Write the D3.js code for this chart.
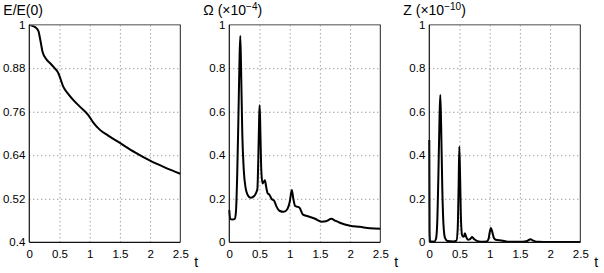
<!DOCTYPE html>
<html>
<head>
<meta charset="UTF-8">
<script src="https://d3js.org/d3.v7.min.js"></script>
<style>
  body { margin: 0; background: #fff; }
  svg { display: block; font-family: "Liberation Sans", Arial, sans-serif; }
  .grid line { stroke: #666; stroke-width: 0.9; stroke-dasharray: 1,3; }
  .tick text { font-size: 11.5px; fill: #000; }
</style>
</head>
<body>
<svg width="604" height="273"></svg>
<script>
// time axis ticks, shared by all panels
const xTicks = [0, 0.5, 1, 1.5, 2, 2.5];

// energy E/E(0)
const eT = [0, 0.05, 0.1, 0.15, 0.18, 0.22, 0.29, 0.35, 0.43, 0.47, 0.5, 0.56, 0.65, 0.73, 0.85, 0.98, 1.06, 1.17, 1.3, 1.5, 1.75, 2.0, 2.25, 2.5];
const eV = [1.0, 0.997, 0.993, 0.983, 0.96, 0.925, 0.903, 0.893, 0.878, 0.87, 0.858, 0.83, 0.808, 0.792, 0.772, 0.75, 0.73, 0.71, 0.695, 0.674, 0.648, 0.625, 0.606, 0.589];
const eTicks = [0.4, 0.52, 0.64, 0.76, 0.88, 1];

// enstrophy Omega (x1e-4)
const oT = [0, 0.015, 0.05, 0.09, 0.11, 0.13, 0.15, 0.17, 0.182, 0.195, 0.215, 0.24, 0.27, 0.3, 0.35, 0.4, 0.44, 0.465, 0.48, 0.495, 0.503, 0.515, 0.53, 0.55, 0.575, 0.59, 0.61, 0.635, 0.66, 0.7, 0.745, 0.78, 0.83, 0.9, 0.96, 1.0, 1.035, 1.06, 1.09, 1.16, 1.22, 1.3, 1.42, 1.53, 1.6, 1.69, 1.75, 1.83, 2.0, 2.16, 2.33, 2.5];
const oV = [0.148, 0.108, 0.105, 0.108, 0.14, 0.3, 0.56, 0.85, 0.948, 0.8, 0.5, 0.33, 0.25, 0.22, 0.205, 0.21, 0.225, 0.245, 0.38, 0.58, 0.63, 0.5, 0.33, 0.27, 0.28, 0.285, 0.255, 0.225, 0.22, 0.2, 0.19, 0.165, 0.145, 0.14, 0.152, 0.185, 0.24, 0.2, 0.167, 0.16, 0.127, 0.12, 0.108, 0.095, 0.097, 0.108, 0.1, 0.09, 0.076, 0.071, 0.065, 0.062];

// palinstrophy Z (x1e-10)
const zT = [0, 0.005, 0.012, 0.08, 0.11, 0.13, 0.15, 0.17, 0.182, 0.195, 0.215, 0.235, 0.26, 0.3, 0.4, 0.45, 0.47, 0.485, 0.497, 0.51, 0.525, 0.545, 0.57, 0.59, 0.61, 0.64, 0.675, 0.71, 0.74, 0.78, 0.85, 0.95, 0.98, 1.0, 1.02, 1.04, 1.07, 1.1, 1.2, 1.3, 1.55, 1.62, 1.675, 1.72, 1.8, 2.0, 2.5];
const zV = [0.47, 0.05, 0.005, 0.003, 0.015, 0.08, 0.3, 0.58, 0.677, 0.55, 0.25, 0.08, 0.02, 0.006, 0.004, 0.008, 0.06, 0.25, 0.44, 0.3, 0.1, 0.03, 0.025, 0.042, 0.025, 0.012, 0.015, 0.024, 0.015, 0.008, 0.003, 0.004, 0.015, 0.045, 0.066, 0.05, 0.02, 0.012, 0.008, 0.003, 0.002, 0.006, 0.014, 0.008, 0.002, 0.001, 0.001];
const oTicks = [0, 0.2, 0.4, 0.6, 0.8, 1];

const svg = d3.select("svg");
const W = 151, yTop = 24.7, yBot = 242.3;

const panels = [
  { x0: 29.3, t: eT, v: eV, dom: [0.4, 1], ticks: eTicks, title: "E/E(0)" },
  { x0: 229.3, t: oT, v: oV, dom: [0, 1], ticks: oTicks, title: ["Ω (×10", "−4", ")"] },
  { x0: 429.3, t: zT, v: zV, dom: [0, 1], ticks: oTicks, title: ["Z (×10", "−10", ")"] }
];

panels.forEach(p => {
  const x = d3.scaleLinear().domain([0, 2.5]).range([p.x0, p.x0 + W]);
  const y = d3.scaleLinear().domain(p.dom).range([yBot, yTop]);
  const g = svg.append("g");

  // dotted grid
  g.append("g").attr("class", "grid")
    .attr("transform", `translate(0,${yBot})`)
    .call(d3.axisBottom(x).tickValues(xTicks.slice(1, -1)).tickSize(-(yBot - yTop)).tickFormat(""))
    .call(a => a.select(".domain").remove());
  g.append("g").attr("class", "grid")
    .attr("transform", `translate(${p.x0},0)`)
    .call(d3.axisLeft(y).tickValues(p.ticks.slice(1, -1)).tickSize(-W).tickFormat(""))
    .call(a => a.select(".domain").remove());

  // tick labels
  g.append("g")
    .attr("transform", `translate(0,${yBot})`)
    .call(d3.axisBottom(x).tickValues(xTicks).tickSize(0).tickPadding(8).tickFormat(d3.format("~g")))
    .call(a => a.select(".domain").remove())
    .attr("font-family", null);
  g.append("g")
    .attr("transform", `translate(${p.x0},0)`)
    .call(d3.axisLeft(y).tickValues(p.ticks).tickSize(0).tickPadding(4).tickFormat(d3.format("~g")))
    .call(a => a.select(".domain").remove())
    .attr("font-family", null);

  // curve
  const pts = p.t.map((t, i) => [t, p.v[i]]);
  g.append("path").datum(pts)
    .attr("fill", "none").attr("stroke", "#000").attr("stroke-width", 2)
    .attr("stroke-linejoin", "round")
    .attr("d", d3.line().x(d => x(d[0])).y(d => y(d[1])).curve(d3.curveMonotoneX));

  // frame
  g.append("line").attr("x1", p.x0).attr("x2", p.x0 + W).attr("y1", yTop).attr("y2", yTop)
    .attr("stroke", "#888").attr("stroke-width", 1.6);
  g.append("line").attr("x1", p.x0 + W).attr("x2", p.x0 + W).attr("y1", yTop).attr("y2", yBot)
    .attr("stroke", "#222").attr("stroke-width", 1);
  g.append("line").attr("x1", p.x0).attr("x2", p.x0).attr("y1", yTop).attr("y2", yBot)
    .attr("stroke", "#111").attr("stroke-width", 1.2);
  g.append("line").attr("x1", p.x0).attr("x2", p.x0 + W).attr("y1", yBot).attr("y2", yBot)
    .attr("stroke", "#111").attr("stroke-width", 1.2);

  // title
  const tt = g.append("text").attr("x", p.x0 - 26).attr("y", 15).attr("font-size", 14);
  if (typeof p.title === "string") {
    tt.text(p.title);
  } else {
    tt.append("tspan").text(p.title[0]);
    tt.append("tspan").attr("font-size", 10).attr("dy", -5).text(p.title[1]);
    tt.append("tspan").attr("dy", 5).text(p.title[2]);
  }

  // t label
  g.append("text").attr("x", p.x0 + W + 14).attr("y", 266.5).attr("font-size", 14).text("t");
});
</script>
</body>
</html>
